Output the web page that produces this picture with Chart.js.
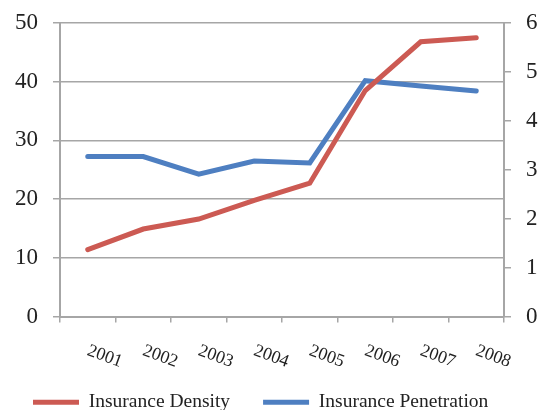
<!DOCTYPE html>
<html>
<head>
<meta charset="utf-8">
<script src="https://cdn.jsdelivr.net/npm/chart.js@4/dist/chart.umd.min.js"></script>
<style>
    html, body { margin: 0; padding: 0; background: #ffffff; overflow: hidden; }
    /* a bit taller than the window so the legend sits low, as in the original */
    #wrap { width: 549px; height: 422px; position: relative; }
</style>
</head>
<body>
<div id="wrap"><canvas id="chart"></canvas></div>
<script>
// Chart values
const years = ['2001', '2002', '2003', '2004', '2005', '2006', '2007', '2008'];
const insuranceDensity = [11.4, 14.9, 16.6, 19.8, 22.7, 38.5, 46.8, 47.5];
const insurancePenetration = [3.27, 3.27, 2.91, 3.18, 3.14, 4.82, 4.71, 4.61];

const densityTicks = [0, 10, 20, 30, 40, 50];
const penetrationTicks = [0, 1, 2, 3, 4, 5, 6];

const RED = '#CC5A53';
const BLUE = '#4E7FC1';
const GRID = '#a6a6a6';
const TEXT = '#222222';
const SERIF = '"Liberation Serif", "DejaVu Serif", serif';

// Draws the slanted year labels under the x axis (positions come from the scale)
const slantedLabels = {
    id: 'slantedLabels',
    afterDraw(chart) {
        const ctx = chart.ctx;
        const xScale = chart.scales.x;
        ctx.save();
        ctx.font = '18px ' + SERIF;
        ctx.fillStyle = TEXT;
        ctx.textAlign = 'center';
        ctx.textBaseline = 'middle';
        years.forEach((year, i) => {
            const x = xScale.getPixelForValue(i) + 17;
            const y = xScale.top + 40;
            ctx.save();
            ctx.translate(x, y);
            ctx.rotate(20 * Math.PI / 180);
            ctx.fillText(year, 0, 0);
            ctx.restore();
        });
        ctx.restore();
    }
};

// fixed axis widths, no extra label padding so the plot box lands where it should
const fitAxis = (width) => (scale) => {
    scale.width = width;
    scale.paddingTop = 0;
    scale.paddingBottom = 0;
};

const ctx = document.getElementById('chart').getContext('2d');
new Chart(ctx, {
    type: 'line',
    data: {
        labels: years,
        datasets: [{
            label: 'Insurance Density',
            data: insuranceDensity,
            yAxisID: 'y',
            borderColor: RED,
            backgroundColor: RED,
            borderWidth: 5,
            borderCapStyle: 'round',
            pointRadius: 0,
            tension: 0
        }, {
            label: 'Insurance Penetration',
            data: insurancePenetration,
            yAxisID: 'y1',
            borderColor: BLUE,
            backgroundColor: BLUE,
            borderWidth: 5,
            borderCapStyle: 'round',
            pointRadius: 0,
            tension: 0
        }]
    },
    options: {
        responsive: true,
        maintainAspectRatio: false,
        animation: false,
        layout: {
            padding: { top: 23, left: 0, right: 0, bottom: 0 }
        },
        plugins: {
            tooltip: { enabled: false },
            legend: {
                position: 'bottom',
                align: 'start',
                labels: {
                    usePointStyle: true,
                    pointStyle: 'line',
                    pointStyleWidth: 46,
                    boxWidth: 46,
                    boxHeight: 4,
                    padding: 33,
                    color: TEXT,
                    font: { family: SERIF, size: 19.5 }
                }
            }
        },
        scales: {
            x: {
                offset: true,
                grid: {
                    offset: true,
                    drawOnChartArea: false,
                    color: GRID,
                    lineWidth: 1.5,
                    tickLength: 6
                },
                border: { color: GRID, width: 2 },
                ticks: { display: false },
                afterFit: (scale) => { scale.height = 43; }
            },
            y: {
                position: 'left',
                min: 0,
                max: 50,
                afterBuildTicks: (scale) => {
                    scale.ticks = densityTicks.map(v => ({ value: v }));
                },
                grid: {
                    color: GRID,
                    lineWidth: 1.5,
                    tickLength: 7
                },
                border: { color: GRID, width: 2 },
                ticks: {
                    color: TEXT,
                    padding: 15,
                    font: { family: SERIF, size: 23 }
                },
                afterFit: fitAxis(60)
            },
            y1: {
                position: 'right',
                min: 0,
                max: 6,
                afterBuildTicks: (scale) => {
                    scale.ticks = penetrationTicks.map(v => ({ value: v }));
                },
                grid: {
                    drawOnChartArea: false,
                    color: GRID,
                    lineWidth: 1.5,
                    tickLength: 7
                },
                border: { color: GRID, width: 2 },
                ticks: {
                    color: TEXT,
                    padding: 15,
                    font: { family: SERIF, size: 23 }
                },
                afterFit: fitAxis(45)
            }
        }
    },
    plugins: [slantedLabels]
});
</script>
</body>
</html>
